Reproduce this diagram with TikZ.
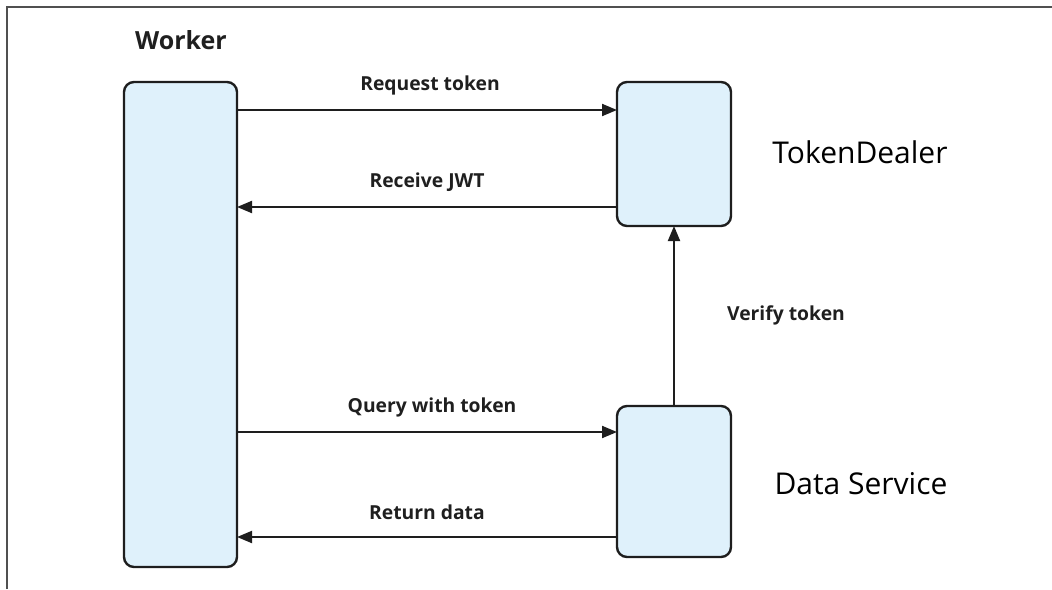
\documentclass[tikz,border=0pt]{standalone}
\usepackage{fontspec}
\setmainfont{Open Sans}
\usetikzlibrary{arrows.meta}
\definecolor{boxfill}{HTML}{DFF1FB}
\definecolor{boxline}{HTML}{1E1E1E}
\definecolor{framegray}{HTML}{505050}
\tikzset{
  lane/.style={draw=boxline, line width=2.4pt, fill=boxfill, rounded corners=10pt,
    inner sep=0pt, outer sep=0pt},
  msg/.style={draw=boxline, line width=2pt, -{Triangle[length=15pt,width=12pt]}},
  msglabel/.style={font=\bfseries\fontsize{19.3}{23}\selectfont, text=black!88, inner sep=0pt, anchor=center},
  title/.style={font=\fontsize{30}{35}\selectfont, inner sep=0pt, anchor=center},
  headtitle/.style={font=\bfseries\fontsize{25}{30}\selectfont, text=black!88, inner sep=0pt, anchor=center}
}
\begin{document}
\begin{tikzpicture}[x=1pt, y=-1pt]
  \useasboundingbox (0,0) rectangle (1052,589);
  % page frame: top and left edges
  \draw[framegray, line width=2pt] (7,589) -- (7,7) -- (1052,7);

  % participants
  \node[lane, minimum width=113pt, minimum height=485pt] (worker) at (180.5,324.5) {};
  \node[lane, minimum width=114pt, minimum height=144pt] (td) at (674,154) {};
  \node[lane, minimum width=114pt, minimum height=151pt] (ds) at (674,481.5) {};

  % participant names
  \node[headtitle] (wname) at (181,40) {Worker};
  \node[title] (tdname) at (860,152) {TokenDealer};
  \node[title] (dsname) at (861,484) {Data Service};

  % messages
  \draw[msg] (worker.east |- 0,110) -- (td.west |- 0,110);
  \draw[msg] (td.west |- 0,207) -- (worker.east |- 0,207);
  \draw[msg] (worker.east |- 0,432) -- (ds.west |- 0,432);
  \draw[msg] (ds.west |- 0,537) -- (worker.east |- 0,537);
  \draw[msg] (ds.north) -- (td.south);

  % message labels
  \node[msglabel] (l1) at (430,85) {Request token};
  \node[msglabel] (l2) at (427,182) {Receive JWT};
  \node[msglabel] (l3) at (432,407) {Query with token};
  \node[msglabel] (l4) at (427,512) {Return data};
  \node[msglabel] (l5) at (786,315) {Verify token};
\end{tikzpicture}
\end{document}
